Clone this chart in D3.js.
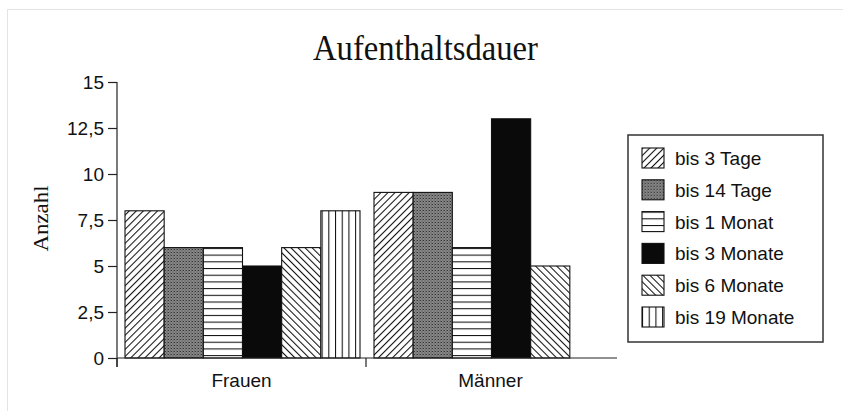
<!DOCTYPE html>
<html>
<head>
<meta charset="utf-8">
<script src="https://cdn.jsdelivr.net/npm/d3@7"></script>
<style>
  body { margin: 0; background: #fff; }
  svg { display: block; }
  .axis text { font-family: "Liberation Sans", Arial, sans-serif; font-size: 19px; fill: #111; }
  .axis path, .axis line { stroke: #222; stroke-width: 1.2; }
</style>
</head>
<body>
<svg id="chart" width="843" height="411"></svg>
<script>
const groups = [ "Frauen", "Männer" ];
const series = [ "bis 3 Tage", "bis 14 Tage", "bis 1 Monat", "bis 3 Monate", "bis 6 Monate", "bis 19 Monate" ];
const frauen = [ 8, 6, 6, 5, 6, 8 ];
const maenner = [ 9, 9, 6, 13, 5, 0 ];
const yTicks = [ 0, 2.5, 5, 7.5, 10, 12.5, 15 ];

const values = { Frauen: frauen, "Männer": maenner };
const fills = [ "url(#hatchUp)", "url(#stipple)", "url(#horiz)", "#0a0a0a", "url(#hatchDown)", "url(#vert)" ];

const svg = d3.select( "#chart" );
const WIDTH = 843;
const HEIGHT = 411;
const MARGINS = { top: 82, right: 228, bottom: 53, left: 117 };

const de = d3.formatLocale( { decimal: ",", thousands: ".", grouping: [ 3 ], currency: [ "", " €" ] } );

// faint page frame
svg.append( "rect" )
  .attr( "x", 7.5 ).attr( "y", 9.5 )
  .attr( "width", WIDTH ).attr( "height", HEIGHT )
  .attr( "fill", "none" ).attr( "stroke", "#e4e4e4" );

// fill patterns
const defs = svg.append( "defs" );
const linePattern = ( id, size, rot, x1, y1, x2, y2 ) => {
  const p = defs.append( "pattern" )
    .attr( "id", id )
    .attr( "patternUnits", "userSpaceOnUse" )
    .attr( "width", size ).attr( "height", size );
  if ( rot ) p.attr( "patternTransform", `rotate(${rot})` );
  p.append( "rect" ).attr( "width", size ).attr( "height", size ).attr( "fill", "#fff" );
  p.append( "line" )
    .attr( "x1", x1 ).attr( "y1", y1 ).attr( "x2", x2 ).attr( "y2", y2 )
    .attr( "stroke", "#111" ).attr( "stroke-width", 1.1 );
};
linePattern( "hatchUp", 5, 45, 0.5, 0, 0.5, 5 );
linePattern( "hatchDown", 5, -45, 0.5, 0, 0.5, 5 );
linePattern( "horiz", 6.7, 0, 0, 0.5, 6.7, 0.5 );
linePattern( "vert", 6.7, 0, 0.5, 0, 0.5, 6.7 );

const st = defs.append( "pattern" )
  .attr( "id", "stipple" )
  .attr( "patternUnits", "userSpaceOnUse" )
  .attr( "width", 3 ).attr( "height", 3 );
st.append( "rect" ).attr( "width", 3 ).attr( "height", 3 ).attr( "fill", "#8a8a8a" );
st.append( "rect" ).attr( "x", 0 ).attr( "y", 0 ).attr( "width", 1 ).attr( "height", 1 ).attr( "fill", "#333" );
st.append( "rect" ).attr( "x", 1.5 ).attr( "y", 1.5 ).attr( "width", 1 ).attr( "height", 1 ).attr( "fill", "#444" );
st.append( "rect" ).attr( "x", 2 ).attr( "y", 0 ).attr( "width", 1 ).attr( "height", 1 ).attr( "fill", "#6a6a6a" );

// scales
const xRange = d3.scaleBand()
  .domain( groups )
  .range( [ MARGINS.left, WIDTH - MARGINS.right ] );
const inner = d3.scaleBand()
  .domain( series )
  .range( [ 8, xRange.bandwidth() - 6 ] );
const yRange = d3.scaleLinear()
  .domain( [ 0, 15 ] )
  .range( [ HEIGHT - MARGINS.bottom, MARGINS.top ] );

// title (scan is slightly stretched vertically, so squeeze the serif text)
svg.append( "text" )
  .attr( "x", 425.5 ).attr( "y", 60 )
  .attr( "text-anchor", "middle" )
  .attr( "textLength", 225 ).attr( "lengthAdjust", "spacingAndGlyphs" )
  .style( "font-family", "\"Liberation Serif\", \"Times New Roman\", serif" )
  .style( "font-size", "36px" )
  .attr( "fill", "#111" )
  .text( "Aufenthaltsdauer" );

// y label
svg.append( "text" )
  .attr( "transform", "translate(48,218.5) rotate(-90)" )
  .attr( "text-anchor", "middle" )
  .attr( "textLength", 66 ).attr( "lengthAdjust", "spacingAndGlyphs" )
  .style( "font-family", "\"Liberation Serif\", \"Times New Roman\", serif" )
  .style( "font-size", "20px" )
  .attr( "fill", "#111" )
  .text( "Anzahl" );

// bars
const bars = [];
groups.forEach( g => series.forEach( ( s, i ) => {
  if ( values[g][i] > 0 ) bars.push( { g, s, i, v: values[g][i] } );
} ) );

svg.append( "g" ).selectAll( "rect" )
  .data( bars )
  .enter()
  .append( "rect" )
  .attr( "x", d => xRange( d.g ) + inner( d.s ) )
  .attr( "y", d => yRange( d.v ) )
  .attr( "width", inner.bandwidth() )
  .attr( "height", d => yRange( 0 ) - yRange( d.v ) )
  .attr( "fill", d => fills[d.i] )
  .attr( "stroke", "#111" )
  .attr( "stroke-width", 1.1 );

// axes
const yAxis = d3.axisLeft( yRange )
  .tickValues( yTicks )
  .tickFormat( de.format( "" ) )
  .tickSize( 9 ).tickPadding( 4 );
svg.append( "g" )
  .attr( "class", "y axis" )
  .attr( "transform", `translate(${MARGINS.left},0)` )
  .call( yAxis )
  .call( g => g.select( ".domain" ).attr( "d", `M0,${yRange( 15 )}V${yRange( 0 ) + 9}` ) );

const xg = svg.append( "g" )
  .attr( "class", "x axis" )
  .attr( "transform", `translate(0,${yRange( 0 )})` );
xg.append( "line" )
  .attr( "x1", MARGINS.left ).attr( "x2", WIDTH - MARGINS.right + 2 )
  .attr( "stroke", "#222" ).attr( "stroke-width", 1.2 );
xg.selectAll( ".tk" )
  .data( groups )
  .enter()
  .append( "line" )
  .attr( "x1", d => xRange( d ) ).attr( "x2", d => xRange( d ) )
  .attr( "y1", 0 ).attr( "y2", 9 )
  .attr( "stroke", "#222" ).attr( "stroke-width", 1.2 );
xg.selectAll( "text" )
  .data( groups )
  .enter()
  .append( "text" )
  .attr( "x", d => xRange( d ) + xRange.bandwidth() / 2 )
  .attr( "y", 29 )
  .attr( "text-anchor", "middle" )
  .text( d => d );

// legend
const legend = svg.append( "g" ).attr( "transform", "translate(628,135)" );
legend.append( "rect" )
  .attr( "width", 195 ).attr( "height", 207 )
  .attr( "fill", "#fff" ).attr( "stroke", "#333" ).attr( "stroke-width", 1.5 );
const rows = legend.selectAll( ".row" )
  .data( series )
  .enter()
  .append( "g" )
  .attr( "transform", ( d, i ) => `translate(14,${13 + i * 31.8})` );
rows.append( "rect" )
  .attr( "width", 22 ).attr( "height", 20 )
  .attr( "fill", ( d, i ) => fills[i] )
  .attr( "stroke", "#111" ).attr( "stroke-width", 1.1 );
rows.append( "text" )
  .attr( "x", 33 ).attr( "y", 17 )
  .style( "font-family", "\"Liberation Sans\", Arial, sans-serif" )
  .style( "font-size", "19px" )
  .attr( "fill", "#111" )
  .text( d => d );
</script>
</body>
</html>
